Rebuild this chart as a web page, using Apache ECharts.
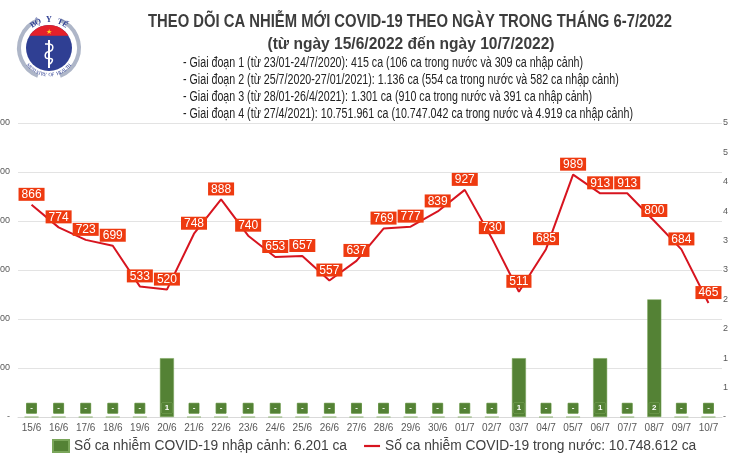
<!DOCTYPE html>
<html><head><meta charset="utf-8">
<script src="https://cdn.jsdelivr.net/npm/echarts@6/dist/echarts.min.js"></script>
<style>html,body{margin:0;padding:0;background:#fff}#c{width:736px;height:460px}</style>
</head><body><div id="c"></div>
<script>
const categories = ['15/6','16/6','17/6','18/6','19/6','20/6','21/6','22/6','23/6','24/6','25/6','26/6','27/6','28/6','29/6','30/6','01/7','02/7','03/7','04/7','05/7','06/7','07/7','08/7','09/7','10/7'];
const domestic = [866,774,723,699,533,520,748,888,740,653,657,557,637,769,777,839,927,730,511,685,989,913,913,800,684,465];
const imported = [0,0,0,0,0,1,0,0,0,0,0,0,0,0,0,0,0,0,1,0,0,1,0,2,0,0];
const leftTicks = {min:0, max:1200, interval:200};
const rightTicks = {min:0, max:5, interval:0.5};
const titleText = 'THEO DÕI CA NHIỄM MỚI COVID-19 THEO NGÀY TRONG THÁNG 6-7/2022';
const subtitleText = '(từ ngày 15/6/2022 đến ngày 10/7/2022)';
const notes = [
 '- Giai đoạn 1 (từ 23/01-24/7/2020): 415 ca (106 ca trong nước và 309 ca nhập cảnh)',
 '- Giai đoạn 2 (từ 25/7/2020-27/01/2021): 1.136 ca (554 ca trong nước và 582 ca nhập cảnh)',
 '- Giai đoạn 3 (từ 28/01-26/4/2021): 1.301 ca (910 ca trong nước và 391 ca nhập cảnh)',
 '- Giai đoạn 4 (từ 27/4/2021): 10.751.961 ca (10.747.042 ca trong nước và 4.919 ca nhập cảnh)'
];
const barName = 'Số ca nhiễm COVID-19 nhập cảnh: 6.201 ca';
const lineName = 'Số ca nhiễm COVID-19 trong nước: 10.748.612 ca';

const FAM = "'Liberation Sans', Arial, sans-serif";
const mctx = document.createElement('canvas').getContext('2d');
function fitScale(text, font, w){ mctx.font = font; return w / mctx.measureText(text).width; }

// logo (decorative)
const cx = 49, cy = 48;
const logo = [];
logo.push({type:'arc', shape:{cx, cy, r:30, startAngle:Math.PI*0.62, endAngle:Math.PI*1.38}, style:{stroke:'#aeb6c8', lineWidth:4, fill:null}});
logo.push({type:'arc', shape:{cx, cy, r:30, startAngle:-Math.PI*0.38, endAngle:Math.PI*0.38}, style:{stroke:'#aeb6c8', lineWidth:4, fill:null}});
logo.push({type:'circle', shape:{cx, cy, r:23}, style:{fill:'#2f3f93'}});
const capPts = [];
for (let a = Math.PI*1.18; a <= Math.PI*1.82 + 1e-6; a += Math.PI*0.04) capPts.push([cx+23*Math.cos(a), cy+23*Math.sin(a)]);
logo.push({type:'polygon', shape:{points:capPts}, style:{fill:'#e4202a'}});
logo.push({type:'text', style:{text:'★', x:cx, y:cy-16, fill:'#ffd21f', fontSize:7, align:'center', verticalAlign:'middle'}});
logo.push({type:'line', shape:{x1:cx, y1:cy-8, x2:cx, y2:cy+20}, style:{stroke:'#fff', lineWidth:2}});
logo.push({type:'polyline', shape:{points:[[cx-4,cy-4],[cx+3,cy-3],[cx+3,cy+2],[cx-3,cy+5],[cx-3,cy+10],[cx+3,cy+11],[cx+2,cy+15],[cx-1,cy+16]], smooth:0.4}, style:{stroke:'#fff', lineWidth:1.5, fill:null}});
const topTxt = 'BỘ Y TẾ';
for (let i=0;i<topTxt.length;i++){
  const a = -Math.PI/2 + (i-(topTxt.length-1)/2)*0.2;
  logo.push({type:'text', x:cx+28*Math.cos(a), y:cy+28*Math.sin(a), rotation:-(a+Math.PI/2), style:{text:topTxt[i], fill:'#2f3f93', fontSize:8, fontWeight:'bold', align:'center', verticalAlign:'middle', fontFamily:'Liberation Serif'}});
}
const botTxt = 'MINISTRY OF HEALTH';
for (let i=0;i<botTxt.length;i++){
  const a = Math.PI/2 - (i-(botTxt.length-1)/2)*0.1;
  logo.push({type:'text', x:cx+27*Math.cos(a), y:cy+27*Math.sin(a), rotation:-(a-Math.PI/2), style:{text:botTxt[i], fill:'#2f3f93', fontSize:5, align:'center', verticalAlign:'middle', fontFamily:'Liberation Serif'}});
}

const titleFont = "bold 18px " + FAM;
const subFont = "bold 17px " + FAM;
const noteFont = "14px " + FAM;
const noteScale = fitScale(notes[3], noteFont, 450);
const graphics = [
  {type:'group', children:logo},
  {type:'text', x:410, y:22, scaleX:fitScale(titleText, titleFont, 524), style:{text:titleText, x:0, y:0, align:'center', verticalAlign:'middle', fill:'#3d3d3d', font:titleFont}},
  {type:'text', x:411, y:44, scaleX:fitScale(subtitleText, subFont, 287), style:{text:subtitleText, x:0, y:0, align:'center', verticalAlign:'middle', fill:'#3d3d3d', font:subFont}},
];
notes.forEach((t,i)=>graphics.push({type:'text', x:183, y:63+i*17, scaleX:noteScale, style:{text:t, x:0, y:0, align:'left', verticalAlign:'middle', fill:'#222', font:noteFont}}));

const chart = echarts.init(document.getElementById('c'));
chart.setOption({
  animation:false,
  backgroundColor:'#fff',
  graphic: graphics,
  grid:{left:18, right:14, top:123, bottom:43, outerBoundsMode:'none', containLabel:false},
  legend:{
    left:52, top:439, padding:0, width:700, itemGap:17, itemWidth:16, itemHeight:12,
    textStyle:{fontSize:13.8, color:'#404040', fontFamily:FAM},
    data:[{name:barName, icon:'rect'}, {name:lineName, icon:'path://M0,0L16,0L16,2.2L0,2.2Z'}]
  },
  xAxis:{
    type:'category', data:categories,
    axisLine:{lineStyle:{color:'#d9d9d9'}}, axisTick:{show:false},
    axisLabel:{color:'#595959', fontSize:10, margin:6, interval:0}
  },
  yAxis:[
    {type:'value', min:leftTicks.min, max:leftTicks.max, interval:leftTicks.interval,
     axisLabel:{color:'#595959', fontSize:9, margin:8, formatter:v=>v===0?'-':v.toLocaleString('en-US')},
     splitLine:{lineStyle:{color:'#e3e3e3'}}, axisLine:{show:false}, axisTick:{show:false}},
    {type:'value', min:rightTicks.min, max:rightTicks.max, interval:rightTicks.interval, position:'right',
     axisLabel:{color:'#595959', fontSize:9, margin:1, formatter:v=>v===0?'-':String(Math.round(v))},
     splitLine:{show:false}, axisLine:{show:false}, axisTick:{show:false}}
  ],
  series:[
    {name:barName, type:'bar', yAxisIndex:1, data:imported, barWidth:14,
     itemStyle:{color:'#548235', borderColor:'#7aa65a', borderWidth:0.5},
     label:{show:true, position:'insideBottom', distance:4, color:'#fff', fontSize:8, fontWeight:'bold',
       backgroundColor:'#548235', borderColor:'#7aa65a', borderWidth:0.5, padding:[1,3], height:8, width:4, align:'center',
       formatter:p=>p.value===0?'-':String(p.value)}},
    {name:lineName, type:'line', yAxisIndex:0, data:domestic, symbol:'circle', symbolSize:0.01, showSymbol:true,
     lineStyle:{color:'#d7141f', width:2}, itemStyle:{color:'#d7141f'},
     label:{show:true, position:'top', distance:4, color:'#fff', fontSize:12, fontFamily:FAM,
       backgroundColor:'#ee3a10', padding:[1,3,0,3]}}
  ]
});
</script></body></html>
